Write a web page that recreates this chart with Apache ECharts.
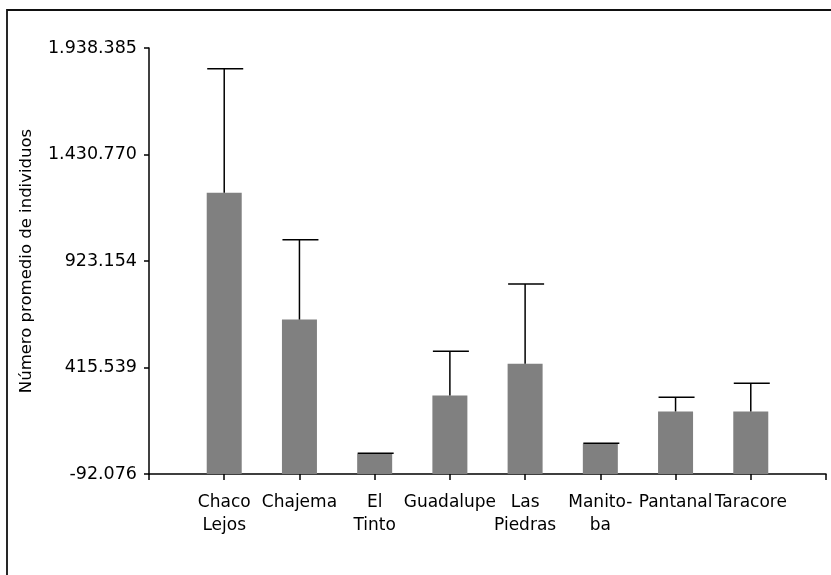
<!DOCTYPE html>
<html>
<head>
<meta charset="utf-8">
<script src="https://cdn.jsdelivr.net/npm/echarts@6/dist/echarts.min.js"></script>
<style>
  html, body { margin: 0; padding: 0; background: #fff; }
  #chart { width: 831px; height: 575px; }
</style>
</head>
<body>
<div id="chart"></div>
<script>
// ---- data ----
const categories = ['Chaco\nLejos', 'Chajema', 'El\nTinto', 'Guadalupe', 'Las\nPiedras', 'Manito-\nba', 'Pantanal', 'Taracore'];
const means = [1249000, 644000, 5000, 282000, 434000, 52000, 206000, 206000];
const upperErr = [1840000, 1025000, 7000, 493000, 814000, 54000, 274000, 340000];
const yTickLabels = ['-92.076', '415.539', '923.154', '1.430.770', '1.938.385'];
const yMin = -92076;
const yMax = 1938385;
const yName = 'Número promedio de individuos';

// padded category axis (empty slot at each end)
const axisCats = [''].concat(categories, ['']);
const rows = categories.map((c, i) => [i + 1, means[i], upperErr[i]]);

const FONT = 'DejaVu Sans';
const chart = echarts.init(document.getElementById('chart'), null, { renderer: 'canvas' });
chart.setOption({
  animation: false,
  backgroundColor: '#ffffff',
  grid: { left: 149, right: 5, top: 48, bottom: 101, containLabel: false },
  xAxis: {
    type: 'category',
    data: axisCats,
    boundaryGap: false,
    axisLine: { onZero: false, lineStyle: { color: '#000', width: 1.5 } },
    axisTick: { show: true, length: 6, inside: false, interval: 0, lineStyle: { color: '#000', width: 1.5 } },
    axisLabel: {
      interval: 0, margin: 17, color: '#000', fontFamily: FONT, fontSize: 17, lineHeight: 23,
      showMinLabel: true, showMaxLabel: true
    },
    splitLine: { show: false }
  },
  yAxis: {
    type: 'value',
    min: yMin,
    max: yMax,
    interval: (yMax - yMin) / 4,
    name: yName,
    nameLocation: 'middle',
    nameGap: 114,
    nameRotate: 90,
    nameTextStyle: { color: '#000', fontFamily: FONT, fontSize: 16.5 },
    axisLine: { show: true, lineStyle: { color: '#000', width: 1.5 } },
    axisTick: { show: true, length: 5, lineStyle: { color: '#000', width: 1.5 } },
    axisLabel: {
      margin: 12, color: '#000', fontFamily: FONT, fontSize: 17.5,
      formatter: (v, idx) => yTickLabels[idx] !== undefined ? yTickLabels[idx] : ''
    },
    splitLine: { show: false }
  },
  series: [
    {
      // bars rising from the axis minimum
      type: 'custom',
      data: rows,
      z: 2,
      encode: { x: 0, y: 1 },
      renderItem: function (params, api) {
        const x = api.value(0);
        const base = api.coord([x, yMin]);
        const top = api.coord([x, api.value(1)]);
        const w = 35;
        return {
          type: 'rect',
          shape: { x: base[0] - w / 2, y: top[1], width: w, height: base[1] - top[1] },
          style: { fill: '#808080' }
        };
      }
    },
    {
      // upper error bars
      type: 'custom',
      data: rows,
      z: 3,
      encode: { x: 0, y: [1, 2] },
      renderItem: function (params, api) {
        const x = api.value(0);
        const base = api.coord([x, api.value(1)]);
        const top = api.coord([x, api.value(2)]);
        const half = 18;
        const style = { stroke: '#000', lineWidth: 1.5 };
        return {
          type: 'group',
          children: [
            { type: 'line', shape: { x1: base[0], y1: base[1], x2: top[0], y2: top[1] }, style: style },
            { type: 'line', shape: { x1: top[0] - half + 1, y1: top[1], x2: top[0] + half + 1, y2: top[1] }, style: style }
          ]
        };
      }
    }
  ],
  graphic: [
    {
      type: 'polyline',
      shape: { points: [[7, 575], [7, 10], [831, 10]] },
      style: { stroke: '#111', lineWidth: 1.8, fill: null },
      silent: true
    }
  ]
});
</script>
</body>
</html>
